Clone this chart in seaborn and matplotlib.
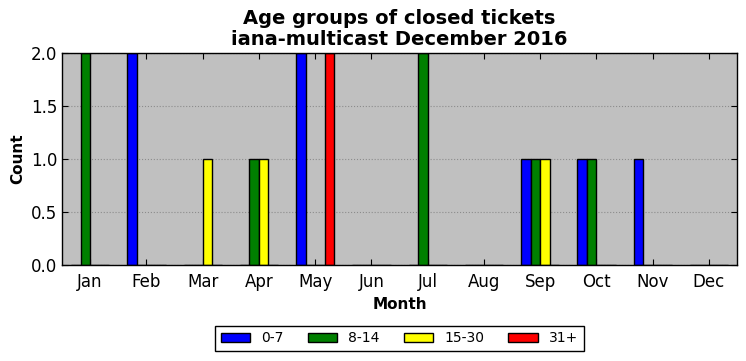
import matplotlib
matplotlib.use("Agg")
import matplotlib.pyplot as plt
import pandas as pd
import seaborn as sns

months = ["Jan", "Feb", "Mar", "Apr", "May", "Jun",
          "Jul", "Aug", "Sep", "Oct", "Nov", "Dec"]
age_groups = ["0-7", "8-14", "15-30", "31+"]
counts_0_7 = [0, 2, 0, 0, 2, 0, 0, 0, 1, 1, 1, 0]
counts_8_14 = [2, 0, 0, 1, 0, 0, 2, 0, 1, 1, 0, 0]
counts_15_30 = [0, 0, 1, 1, 0, 0, 0, 0, 1, 0, 0, 0]
counts_31_plus = [0, 0, 0, 0, 2, 0, 0, 0, 0, 0, 0, 0]
colors = ["#0000ff", "#008000", "#ffff00", "#ff0000"]

df = pd.DataFrame({
    "Month": months * 4,
    "Age": [g for g in age_groups for _ in months],
    "Count": counts_0_7 + counts_8_14 + counts_15_30 + counts_31_plus,
})

sns.set_style("whitegrid", {
    "axes.facecolor": "#c0c0c0",
    "axes.edgecolor": "black",
    "axes.labelcolor": "black",
    "text.color": "black",
    "xtick.color": "black",
    "ytick.color": "black",
    "grid.color": "#8c8c8c",
    "grid.linestyle": ":",
    "xtick.direction": "in",
    "ytick.direction": "in",
    "xtick.top": True,
    "ytick.right": True,
    "xtick.bottom": True,
    "ytick.left": True,
})
plt.rcParams["font.family"] = ["DejaVu Sans"]

fig = plt.figure(figsize=(7.46, 3.61), dpi=100)
ax = fig.add_axes([0.0831, 0.266, 0.905, 0.587])

sns.barplot(data=df, x="Month", y="Count", hue="Age", order=months,
            hue_order=age_groups, palette=colors, width=0.68,
            edgecolor="black", linewidth=1.0, saturation=1, ax=ax,
            legend=True)

ax.set_xlim(-0.5, 11.5)
ax.set_ylim(0, 2.0)
ax.set_yticks([0.0, 0.5, 1.0, 1.5, 2.0])
ax.set_yticklabels(["0.0", "0.5", "1.0", "1.5", "2.0"])
ax.grid(axis="x", visible=False)
ax.grid(axis="y", visible=True, linewidth=0.8)
ax.set_axisbelow(True)
ax.tick_params(axis="both", labelsize=12, length=4, width=0.8, color="black",
               labelcolor="black")
ax.tick_params(axis="x", pad=6)
for s in ax.spines.values():
    s.set_linewidth(1.0)

ax.set_xlabel("Month", fontsize=11, fontweight="bold", color="black")
ax.set_ylabel("Count", fontsize=11, fontweight="bold", color="black")
ax.set_title("Age groups of closed tickets\niana-multicast December 2016",
             fontsize=14, fontweight="bold", linespacing=1.1, color="black")

handles, labels = ax.get_legend_handles_labels()
ax.legend_.remove()
leg = fig.legend(handles, labels, loc="center", bbox_to_anchor=(0.5355, 0.063),
                 ncol=4, fontsize=10, frameon=True, fancybox=False,
                 edgecolor="black", facecolor="white", framealpha=1,
                 handlelength=2.1, columnspacing=1.75, borderpad=0.4)
for t in leg.get_texts():
    t.set_color("black")

fig.savefig("out.png", dpi=100)
plt.close()
